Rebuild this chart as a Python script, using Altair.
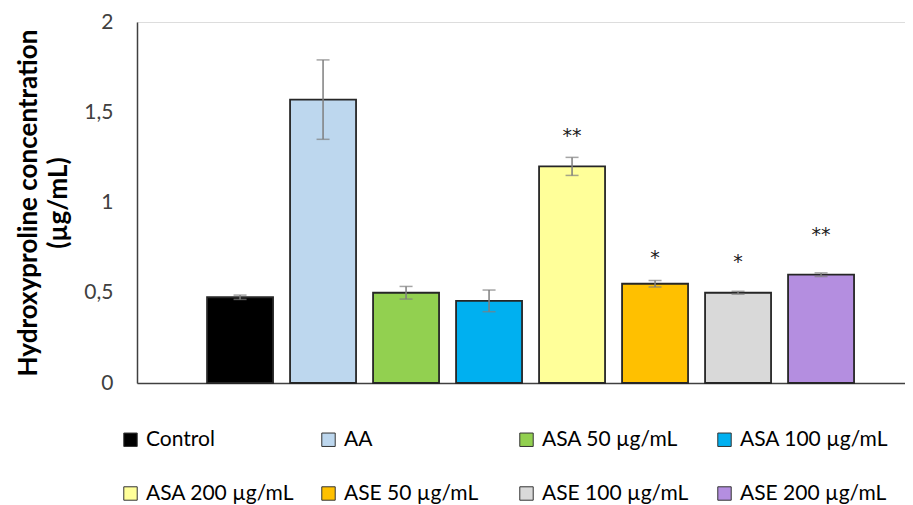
import altair as alt
import pandas as pd

categories = ["Control", "AA", "ASA 50 µg/mL", "ASA 100  µg/mL",
              "ASA 200 µg/mL", "ASE 50 µg/mL", "ASE 100 µg/mL", "ASE 200  µg/mL"]
values = [0.475, 1.57, 0.50, 0.455, 1.20, 0.55, 0.50, 0.60]
errors = [0.012, 0.22, 0.035, 0.06, 0.05, 0.018, 0.008, 0.01]
colors = ["#000000", "#bdd7ee", "#92d050", "#00b0f0",
          "#ffff99", "#ffc000", "#d9d9d9", "#b48ee0"]
stars = ["", "", "", "", "**", "*", "*", "**"]
star_y = [None, None, None, None, 1.37, 0.695, 0.67, 0.82]

df = pd.DataFrame({
    "group": categories,
    "value": values,
    "lo": [v - e for v, e in zip(values, errors)],
    "hi": [v + e for v, e in zip(values, errors)],
    "star": stars,
    "star_y": star_y,
})

font = "Lato"

xenc = alt.X("group:N", sort=categories,
             scale=alt.Scale(paddingInner=0.205, paddingOuter=0.729, align=0.579),
             axis=alt.Axis(labels=False, ticks=False, title=None,
                           domainColor="#404040", domainWidth=1.5))
yscale = alt.Scale(domain=[0, 2], nice=False)

bars = alt.Chart(df).mark_bar(stroke="#262626", strokeWidth=1.8).encode(
    x=xenc,
    y=alt.Y("value:Q", scale=yscale,
            axis=alt.Axis(values=[0, 0.5, 1, 1.5, 2], grid=False, ticks=False,
                          labelExpr="replace(toString(datum.value), '.', ',')",
                          labelFontSize=21, labelColor="#404040", labelFont=font,
                          labelPadding=24, domainColor="#404040", domainWidth=1.5,
                          title=["Hydroxyproline concentration", "(µg/mL)"],
                          titleFontSize=26, titleFont=font, titleFontWeight="bold",
                          titleColor="#000000", titlePadding=12, titleLineHeight=30)),
    color=alt.Color("group:N", sort=categories,
                    scale=alt.Scale(domain=categories, range=colors),
                    legend=alt.Legend(title=None, orient="none", legendX=-17, legendY=407,
                                      columns=4, direction="horizontal",
                                      gridAlign="all", columnPadding=18, rowPadding=32,
                                      symbolType="square", symbolSize=180,
                                      symbolStrokeColor="#333333", symbolStrokeWidth=1,
                                      symbolOpacity=1,
                                      labelFontSize=21, labelFont=font, labelColor="#000000",
                                      labelOffset=5, labelLimit=300)),
)

rules = alt.Chart(df).mark_rule(color="#7f7f7f", strokeWidth=1.5).encode(
    x=alt.X("group:N", sort=categories), y="lo:Q", y2="hi:Q")
caps_lo = alt.Chart(df).mark_tick(color="#7f7f7f", thickness=1.5, size=13).encode(
    x=alt.X("group:N", sort=categories), y="lo:Q")
caps_hi = alt.Chart(df).mark_tick(color="#7f7f7f", thickness=1.5, size=13).encode(
    x=alt.X("group:N", sort=categories), y="hi:Q")
text = alt.Chart(df).transform_filter("datum.star != ''").mark_text(
    fontSize=19, font="DejaVu Sans", color="#1a1a1a", baseline="middle").encode(
    x=alt.X("group:N", sort=categories), y="star_y:Q", text="star:N")

chart = alt.layer(bars, rules, caps_lo, caps_hi, text).properties(
    width=768, height=361,
    autosize=alt.AutoSizeParams(type="none"),
    padding={"left": 129, "top": 14, "right": 0, "bottom": 122},
).configure_view(stroke=None).configure(background="white")

chart.save("out.html", embed_options={"renderer": "svg", "actions": False})
